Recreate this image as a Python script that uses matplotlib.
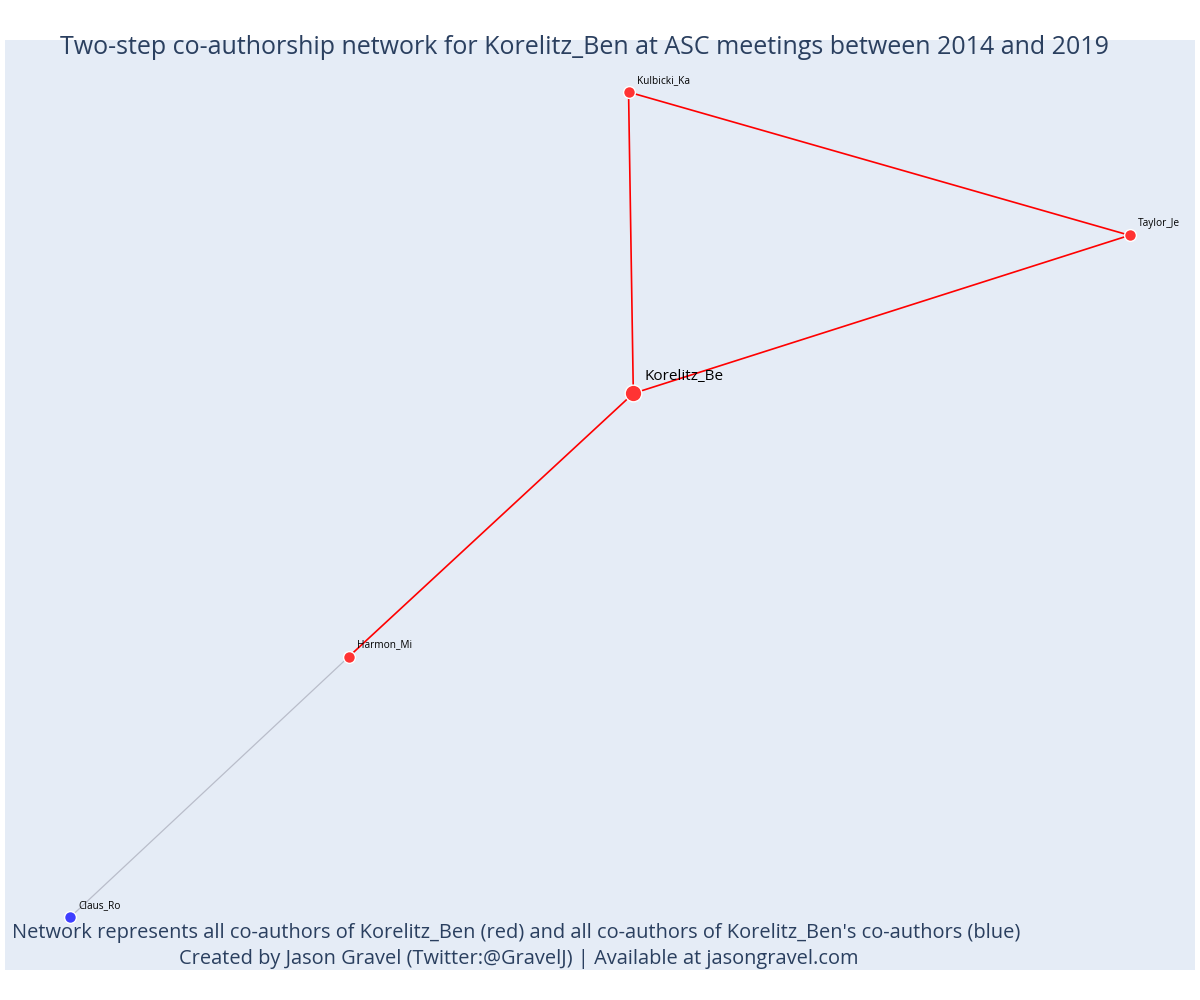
"""
Two-step co-authorship network for Korelitz_Ben, drawn as a static
matplotlib figure in the style of the original plotly output.
"""
import matplotlib
matplotlib.use("Agg")
import matplotlib.pyplot as plt

# --- Network data ---
# Node layout positions (unit square)
NODE_NAMES = ["Korelitz_Be", "Kulbicki_Ka", "Taylor_Je", "Harmon_Mi", "Claus_Ro"]
NODE_X = [0.528, 0.524, 0.945, 0.289, 0.055]
NODE_Y = [0.620, 0.944, 0.790, 0.337, 0.057]
# 0 = ego, 1 = co-author (red), 2 = co-author of co-author (blue)
NODE_STEP = [0, 1, 1, 1, 2]

# Edges as pairs of node indices, with their step
EDGES = [(0, 1), (1, 2), (2, 0), (0, 3), (3, 4)]
EDGE_STEP = [1, 1, 1, 1, 2]

TITLE = "Two-step co-authorship network for Korelitz_Ben at ASC meetings between 2014 and 2019"
NOTE_1 = ("Network represents all co-authors of Korelitz_Ben (red) and all "
          "co-authors of Korelitz_Ben's co-authors (blue)")
NOTE_2 = "Created by Jason Gravel (Twitter:@GravelJ) | Available at jasongravel.com"

TEXT_COLOR = "#2a3f5f"
BG_COLOR = "#E5ECF6"


def draw_network():
    plt.rcParams["font.family"] = ["Open Sans", "DejaVu Sans"]

    fig = plt.figure(figsize=(12, 10), dpi=100)
    # plot area: 5..1195 px wide, 40..970 px tall
    ax = fig.add_axes([5 / 1200, 30 / 1000, 1190 / 1200, 930 / 1000])
    ax.set_facecolor(BG_COLOR)
    ax.set_xlim(0, 1)
    ax.set_ylim(0, 1)
    ax.set_xticks([])
    ax.set_yticks([])
    for spine in ax.spines.values():
        spine.set_visible(False)

    # edges
    for (a, b), step in zip(EDGES, EDGE_STEP):
        if step == 1:
            ax.plot([NODE_X[a], NODE_X[b]], [NODE_Y[a], NODE_Y[b]],
                    color="red", linewidth=1.2, zorder=1)
        else:
            ax.plot([NODE_X[a], NODE_X[b]], [NODE_Y[a], NODE_Y[b]],
                    color="#b9bdca", linewidth=0.9, zorder=1)

    # nodes and labels
    for name, x, y, step in zip(NODE_NAMES, NODE_X, NODE_Y, NODE_STEP):
        color = "#ff3333" if step < 2 else "#3f3fff"
        size = 12 if step == 0 else 8.5
        ax.plot(x, y, "o", markersize=size, color=color,
                markeredgecolor="white", markeredgewidth=1.0, zorder=3)
        if step == 0:
            ax.annotate(name, (x, y), xytext=(11, 9), textcoords="offset pixels",
                        fontsize=11, color="black", va="bottom", ha="left", zorder=4)
        else:
            ax.annotate(name, (x, y), xytext=(8, 6), textcoords="offset pixels",
                        fontsize=7.3, color="black", va="bottom", ha="left", zorder=4)

    fig.text(585 / 1200, 1 - 47 / 1000, TITLE, ha="center", va="center",
             fontsize=18, color=TEXT_COLOR)
    fig.text(516 / 1200, 1 - 933 / 1000, NOTE_1, ha="center", va="center",
             fontsize=14.4, color=TEXT_COLOR)
    fig.text(519 / 1200, 1 - 959 / 1000, NOTE_2, ha="center", va="center",
             fontsize=14.4, color=TEXT_COLOR)

    fig.savefig("out.png", dpi=100)


if __name__ == "__main__":
    draw_network()
